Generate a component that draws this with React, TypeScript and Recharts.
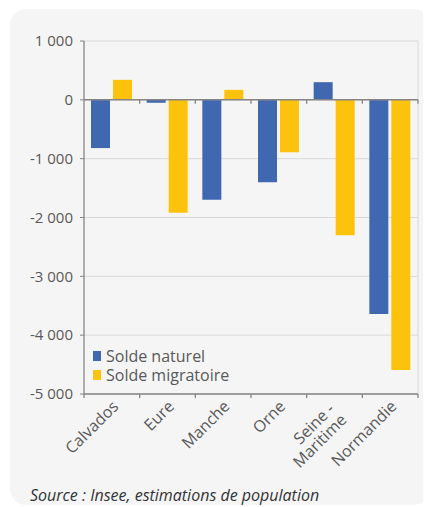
import React from "react";
import {
  BarChart,
  Bar,
  XAxis,
  YAxis,
  CartesianGrid,
  ReferenceLine,
  Legend,
} from "recharts";

// Valeurs
const categories = ["Calvados", "Eure", "Manche", "Orne", "Seine-Maritime", "Normandie"];
const soldeNaturel = [-820, -50, -1700, -1400, 300, -3640];
const soldeMigratoire = [340, -1920, 170, -890, -2300, -4590];
const yTicks = [1000, 0, -1000, -2000, -3000, -4000, -5000];
const seriesNames = ["Solde naturel", "Solde migratoire"];

const BLUE = "#3f68b0";
const YELLOW = "#fdc30c";
const AXIS = "#858585";
const TEXT = "#595959";

const data = categories.map((name, i) => ({
  name,
  naturel: soldeNaturel[i],
  migratoire: soldeMigratoire[i],
}));

const fmt = (v: number) =>
  (v < 0 ? "-" : "") + String(Math.abs(v)).replace(/\B(?=(\d{3})+(?!\d))/g, " ");

const XTick = (props: any) => {
  const { x, y, payload } = props;
  const label: string = payload.value;
  const twoLines = label.includes("-");
  const lines = twoLines ? [label.split("-")[0] + " -", label.split("-")[1]] : [label];
  // point d'ancrage (fin de ligne de base) de chaque ligne
  const anchors = twoLines
    ? [
        [x + 1, y + 16],
        [x + 13, y + 27],
      ]
    : [[x + 7.5, y + 13.5]];
  return (
    <g>
      {lines.map((l, i) => {
        const [ax, ay] = anchors[i];
        return (
          <text
            key={i}
            x={ax}
            y={ay}
            textAnchor="end"
            fontSize={16}
            fill={TEXT}
            transform={`rotate(-45 ${ax} ${ay})`}
          >
            {l}
          </text>
        );
      })}
    </g>
  );
};

// ligne du zéro avec graduations aux limites des catégories
const ZeroLine = (props: any) => {
  const { x1, x2, y1 } = props;
  const n = categories.length;
  return (
    <g>
      <line x1={x1} x2={x2} y1={y1} y2={y1} stroke={AXIS} strokeWidth={1.5} />
      {categories.map((_, k) => {
        const x = x1 + ((x2 - x1) * (k + 1)) / n;
        return <line key={k} x1={x} x2={x} y1={y1} y2={y1 + 4} stroke={AXIS} strokeWidth={1.3} />;
      })}
    </g>
  );
};

// graduations de l'axe du bas
const BottomTicks = (props: any) => {
  const { x1, x2, y1 } = props;
  const n = categories.length;
  return (
    <g>
      {[0, ...categories.map((_, k) => k + 1)].map((k) => {
        const x = x1 + ((x2 - x1) * k) / n;
        return <line key={k} x1={x} x2={x} y1={y1} y2={y1 + 4} stroke={AXIS} strokeWidth={1.3} />;
      })}
    </g>
  );
};

const LegendContent = (props: any) => {
  const payload = [...(props.payload || [])].sort(
    (a: any, b: any) => seriesNames.indexOf(a.value) - seriesNames.indexOf(b.value)
  );
  return (
    <div>
      {payload.map((p: any) => (
        <div
          key={p.value}
          style={{
            display: "flex",
            alignItems: "center",
            height: 18.5,
            lineHeight: "18.5px",
            fontSize: 16,
            color: TEXT,
          }}
        >
          <span style={{ width: 8, height: 10, background: p.color, marginRight: 5, display: "inline-block" }} />
          {p.value}
        </div>
      ))}
    </div>
  );
};

export default function App() {
  return (
    <div
      style={{
        position: "relative",
        marginLeft: 2,
        marginTop: 1,
        width: 420,
        height: 496,
        background: "#f5f5f5",
        borderRadius: 16,
        fontFamily: "'Open Sans', sans-serif",
      }}
    >
      <BarChart
        width={420}
        height={470}
        data={data}
        margin={{ top: 32, right: 12, left: 0, bottom: 0 }}
        barCategoryGap={7}
        barGap={3}
      >
        <CartesianGrid
          stroke="#d9d9d9"
          verticalCoordinatesGenerator={({ offset }: any) => [offset.left + offset.width]}
        />
        <XAxis
          dataKey="name"
          height={85}
          interval={0}
          tickLine={false}
          tickSize={0}
          tickMargin={0}
          axisLine={{ stroke: AXIS, strokeWidth: 1.3 }}
          tick={<XTick />}
        />
        <YAxis
          width={74}
          domain={[-5000, 1000]}
          ticks={yTicks}
          interval={0}
          tickFormatter={fmt}
          tickSize={4}
          tickMargin={7}
          tick={{ fill: TEXT, fontSize: 15 }}
          tickLine={{ stroke: AXIS }}
          axisLine={{ stroke: AXIS, strokeWidth: 1.3 }}
        />
        <Bar dataKey="naturel" name={seriesNames[0]} fill={BLUE} isAnimationActive={false} />
        <Bar dataKey="migratoire" name={seriesNames[1]} fill={YELLOW} isAnimationActive={false} />
        <ReferenceLine y={0} shape={<ZeroLine />} />
        <ReferenceLine y={-5000} shape={<BottomTicks />} />
        <Legend
          layout="vertical"
          align="center"
          verticalAlign="middle"
          content={<LegendContent />}
          wrapperStyle={{ left: 83, top: 338, width: 200 }}
        />
      </BarChart>
      <div
        style={{
          position: "absolute",
          left: 20,
          top: 475,
          fontSize: 16,
          fontStyle: "italic",
          color: "#333",
          whiteSpace: "nowrap",
        }}
      >
        Source : Insee, estimations de population
      </div>
    </div>
  );
}
